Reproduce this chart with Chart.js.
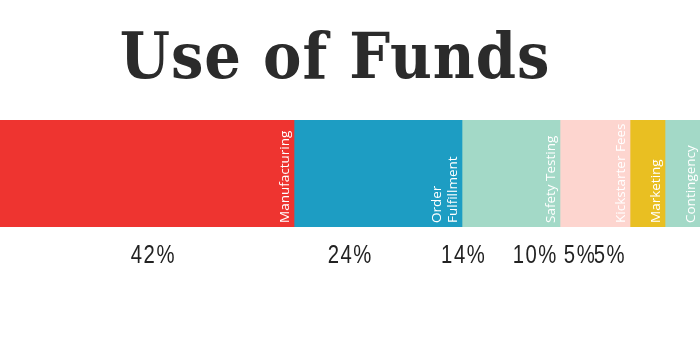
<!DOCTYPE html>
<html>
<head>
<meta charset="utf-8">
<title>Use of Funds</title>
<script src="https://cdn.jsdelivr.net/npm/chart.js@4/dist/chart.umd.min.js"></script>
<style>
  html, body { margin: 0; padding: 0; background: #fff; }
  canvas { display: block; }
</style>
</head>
<body>
<canvas id="funds" width="700" height="350"></canvas>
<script>
// ------------------------------------------------------------
// Use of Funds — single stacked bar
// ------------------------------------------------------------

const categories = [['Manufacturing'], ['Order', 'Fulfillment'], ['Safety Testing'], ['Kickstarter Fees'], ['Marketing'], ['Contingency']];
const shares     = [42, 24, 14, 10, 5, 5];
const colors     = ['#EE3430', '#1D9DC3', '#A3D9C7', '#FDD5CF', '#E9BF22', '#A3D9C7'];

const TITLE = 'Use of Funds';

// title drawn by hand (slightly left of centre, like the original)
const titlePlugin = {
  id: 'titlePlugin',
  afterDraw(chart) {
    const ctx = chart.ctx;
    ctx.save();
    ctx.fillStyle = '#2b2b2b';
    ctx.font = "bold 64px 'DejaVu Serif Condensed', 'DejaVu Serif', serif";
    ctx.letterSpacing = '1px';
    ctx.textAlign = 'center';
    ctx.textBaseline = 'alphabetic';
    ctx.fillText(TITLE, 335, 78);
    ctx.restore();
  },
};

// rotated names inside the segments + percentages underneath
const fundsLabels = {
  id: 'fundsLabels',
  afterDatasetsDraw(chart) {
    const ctx = chart.ctx;
    const x2  = chart.scales.x2;
    let cum = 0;

    chart.data.datasets.forEach((ds, i) => {
      const bar = chart.getDatasetMeta(i).data[0];
      const p   = bar.getProps(['x', 'base', 'y', 'height'], true);
      const bottom = p.y + p.height / 2;
      const lines = categories[i];

      // name, reading bottom -> top, hugging the right edge
      ctx.save();
      ctx.fillStyle = '#ffffff';
      ctx.font = "13.5px 'Open Sans', 'Noto Sans', sans-serif";
      ctx.textAlign = 'left';
      ctx.textBaseline = 'alphabetic';
      lines.forEach((txt, k) => {
        const off = (lines.length - 1 - k) * 16;
        ctx.save();
        ctx.translate(p.x - 5 - off, bottom - 4);
        ctx.rotate(-Math.PI / 2);
        ctx.fillText(txt, 0, 0);
        ctx.restore();
      });
      ctx.restore();

      // percentage row (narrowed sans)
      const mid = cum + shares[i] / 2;
      cum += shares[i];
      ctx.save();
      ctx.translate(x2.getPixelForValue(mid), bottom + 36);
      ctx.scale(0.78, 1);
      ctx.fillStyle = '#222';
      ctx.font = "26px 'Liberation Sans', Arial, sans-serif";
      ctx.letterSpacing = '2px';
      ctx.textAlign = 'center';
      ctx.textBaseline = 'alphabetic';
      ctx.fillText(shares[i] + '%', 0, 0);
      ctx.restore();
    });
  },
};

new Chart(document.getElementById('funds'), {
  type: 'bar',
  data: {
    labels: ['Funds'],
    datasets: shares.map((v, i) => ({
      label: categories[i].join(' '),
      data: [v],
      backgroundColor: colors[i],
      borderWidth: 0,
      barPercentage: 1,
      categoryPercentage: 1,
    })),
  },
  options: {
    indexAxis: 'y',
    responsive: false,
    animation: false,
    layout: { padding: { top: 120, bottom: 123, left: 0, right: 0 } },
    scales: {
      x:  { stacked: true, min: 0, max: 100, display: false },
      x2: { type: 'linear', min: -4.7, max: 112.6, display: false },
      y:  { stacked: true, display: false },
    },
    plugins: {
      legend: { display: false },
      tooltip: { enabled: false },
    },
  },
  plugins: [fundsLabels, titlePlugin],
});
</script>
</body>
</html>
